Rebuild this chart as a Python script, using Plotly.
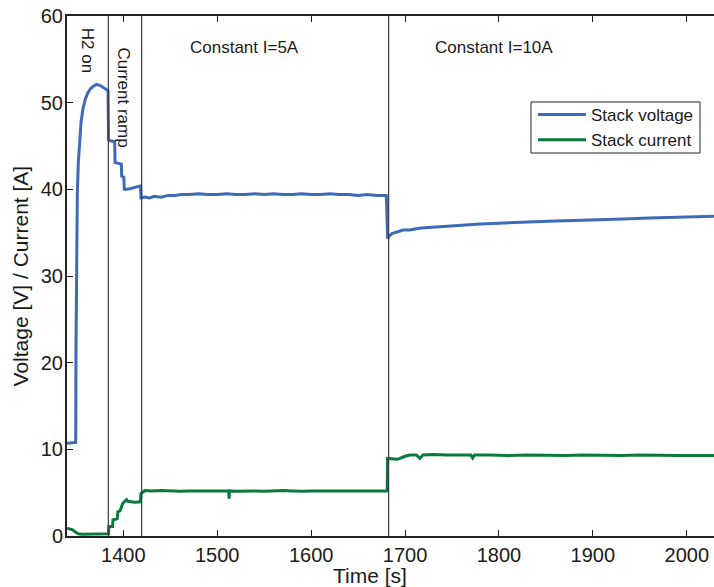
import plotly.graph_objects as go

# ---------------- data ----------------
volt_time = [1340, 1349.3, 1349.6, 1350.2, 1351, 1352, 1353.5, 1355, 1357, 1359.5, 1362, 1365,
             1368, 1371.5, 1375, 1378, 1381, 1383.7, 1384.2, 1386, 1390.8, 1391.2, 1395, 1397.8,
             1398.3, 1400.5, 1401, 1404, 1408, 1412, 1416, 1418.3, 1418.8, 1423, 1428, 1433,
             1440, 1448, 1455, 1462, 1470, 1480, 1490, 1500, 1510, 1520, 1530, 1540, 1550,
             1560, 1570, 1580, 1590, 1600, 1610, 1620, 1630, 1640, 1650, 1660, 1670, 1680,
             1681.5, 1683, 1686, 1692, 1698, 1705, 1715, 1725, 1737, 1750, 1765, 1780, 1800,
             1820, 1840, 1860, 1880, 1900, 1920, 1940, 1960, 1980, 2000, 2015, 2030]
volt_vals = [10.7, 10.8, 22.0, 33.0, 39.5, 43.0, 46.0, 47.8, 49.3, 50.4, 51.1, 51.6,
             51.9, 52.1, 52.0, 51.8, 51.6, 51.4, 45.7, 45.6, 45.5, 43.1, 43.0, 42.9,
             41.5, 41.4, 40.0, 40.0, 40.1, 40.2, 40.3, 40.4, 39.0, 39.1, 39.0, 39.2,
             39.1, 39.3, 39.3, 39.4, 39.4, 39.5, 39.4, 39.4, 39.5, 39.4, 39.4, 39.5, 39.4,
             39.5, 39.4, 39.4, 39.5, 39.4, 39.4, 39.5, 39.4, 39.4, 39.3, 39.4, 39.3, 39.3,
             34.3, 34.6, 34.9, 35.1, 35.3, 35.3, 35.5, 35.6, 35.7, 35.8, 35.9, 36.0, 36.1,
             36.2, 36.3, 36.35, 36.4, 36.45, 36.55, 36.6, 36.7, 36.75, 36.8, 36.85, 36.9]

cur_time = [1340, 1343, 1346, 1349, 1352, 1356, 1365, 1375, 1384.2, 1384.6, 1388.5, 1389,
            1391, 1393.5, 1394.2, 1396.5, 1399.5, 1401.5, 1403.5, 1405, 1407, 1412, 1418.2,
            1418.8, 1423, 1430, 1440, 1450, 1460, 1470, 1480, 1490, 1500, 1510, 1512.3,
            1512.6, 1513, 1520, 1530, 1540, 1550, 1560, 1570, 1580, 1590, 1600, 1610, 1620,
            1630, 1640, 1650, 1660, 1670, 1681, 1681.4, 1686, 1692, 1700, 1705, 1712,
            1715.8, 1719, 1730, 1745, 1760, 1770, 1772, 1774, 1790, 1810, 1830, 1850, 1870,
            1890, 1910, 1930, 1950, 1970, 1990, 2010, 2030]
cur_vals = [0.9, 0.8, 0.7, 0.45, 0.25, 0.2, 0.2, 0.2, 0.25, 1.1, 1.1, 1.85,
            1.9, 2.0, 2.8, 2.9, 3.8, 4.0, 4.2, 4.0, 3.95, 3.9, 3.95,
            4.9, 5.25, 5.2, 5.25, 5.2, 5.15, 5.2, 5.2, 5.15, 5.2, 5.2, 5.2,
            4.3, 5.2, 5.15, 5.2, 5.2, 5.15, 5.2, 5.25, 5.2, 5.15, 5.2, 5.2, 5.15,
            5.2, 5.2, 5.15, 5.2, 5.2, 5.2, 8.95, 8.9, 8.85, 9.2, 9.35, 9.35,
            8.95, 9.35, 9.4, 9.35, 9.4, 9.35, 9.0, 9.35, 9.35, 9.3, 9.35, 9.3, 9.3,
            9.35, 9.3, 9.3, 9.35, 9.3, 9.3, 9.3, 9.3]

event_times = [1384.0, 1419.5, 1682.5]
x_ticks = [1400, 1500, 1600, 1700, 1800, 1900, 2000]
y_ticks = [0, 10, 20, 30, 40, 50, 60]

BLUE = "#3D6BB8"
GREEN = "#0A7A3C"
FONT = "Liberation Sans, Arial, Helvetica, sans-serif"

fig = go.Figure()
fig.add_trace(go.Scatter(x=volt_time, y=volt_vals, mode="lines", name="Stack voltage",
                         line=dict(color=BLUE, width=3)))
fig.add_trace(go.Scatter(x=cur_time, y=cur_vals, mode="lines", name="Stack current",
                         line=dict(color=GREEN, width=3)))

for t in event_times:
    fig.add_shape(type="line", xref="x", yref="paper", x0=t, x1=t, y0=0, y1=1,
                  line=dict(color="#3a3a3a", width=1.2), layer="above")

# legend frame (pixel-based paper coords)
fig.add_shape(type="rect", xref="paper", yref="paper",
              x0=(531 - 67) / 647, x1=(700 - 67) / 647,
              y0=(536 - 153) / 520, y1=(536 - 102) / 520,
              line=dict(color="#222", width=1), fillcolor="rgba(0,0,0,0)", layer="above")

ann_font = dict(family=FONT, size=17, color="#1a1a1a")
fig.add_annotation(x=1361.3, y=56.1, text="H2 on", textangle=90, showarrow=False, font=ann_font)
fig.add_annotation(x=1400.7, y=50.6, text="Current ramp", textangle=90, showarrow=False, font=ann_font)
fig.add_annotation(x=1529.5, y=56.4, text="Constant I=5A", showarrow=False, font=ann_font)
fig.add_annotation(x=1794.6, y=56.4, text="Constant I=10A", showarrow=False, font=ann_font)

fig.add_annotation(xref="paper", yref="paper", x=0.468, y=-0.075, xanchor="center",
                   yanchor="middle", text="Time [s]",
                   showarrow=False, font=dict(family=FONT, size=21, color="#1a1a1a"))
fig.add_annotation(xref="paper", yref="paper", x=-0.072, y=0.5, xanchor="center",
                   yanchor="middle", text="Voltage [V] / Current [A]",
                   textangle=-90, showarrow=False, font=dict(family=FONT, size=21, color="#1a1a1a"))

fig.update_layout(
    width=714, height=587,
    margin=dict(l=67, r=0, t=16, b=51),
    paper_bgcolor="white", plot_bgcolor="white",
    font=dict(family=FONT, size=20, color="#1a1a1a"),
    showlegend=True,
    legend=dict(x=(699 - 67) / 647, y=(536 - 97) / 520, xanchor="right", yanchor="top",
                borderwidth=0, bgcolor="rgba(0,0,0,0)",
                font=dict(family=FONT, size=17, color="#1a1a1a"),
                itemwidth=48, tracegroupgap=0),
)
fig.update_xaxes(range=[1340, 2029], tickvals=x_ticks, ticks="inside", ticklen=6,
                 tickcolor="#222", showline=True, linecolor="#222", linewidth=2,
                 mirror="ticks", showgrid=False, zeroline=False)
fig.update_yaxes(range=[0, 60], tickvals=y_ticks, ticks="inside", ticklen=6,
                 tickcolor="#222", showline=True, linecolor="#222", linewidth=2,
                 mirror=False, showgrid=False, zeroline=False, ticklabelstandoff=-2)

fig.write_html("out.html")
